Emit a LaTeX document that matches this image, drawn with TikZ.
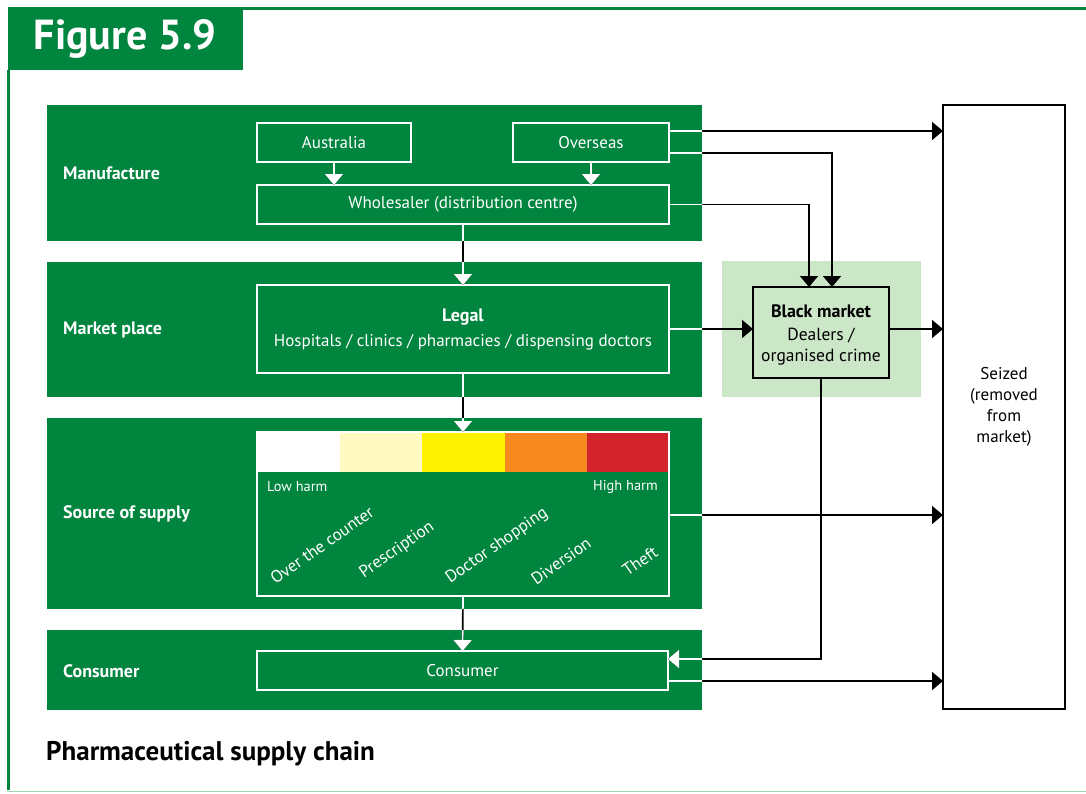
\documentclass[tikz,border=0pt]{standalone}
\usepackage{fontspec}
\setmainfont{PT Sans}
\usetikzlibrary{arrows.meta,calc}
\definecolor{fgreen}{HTML}{00853F}
\definecolor{bmgreen}{HTML}{CCE6C8}
\definecolor{framelight}{HTML}{9FD6B4}
\definecolor{harm1}{HTML}{FFFFFF}
\definecolor{harm2}{HTML}{FFF9C2}
\definecolor{harm3}{HTML}{FFF200}
\definecolor{harm4}{HTML}{F6891F}
\definecolor{harm5}{HTML}{D2232A}
\tikzset{
  band/.style={fill=fgreen, draw=none, inner sep=0pt, outer sep=0pt},
  bandlabel/.style={text=white, font=\fontsize{18}{21}\selectfont\bfseries, anchor=west, inner sep=0pt},
  wbox/.style={draw=white, line width=1.4pt, text=white, inner sep=0pt, outer sep=0pt,
    font=\fontsize{17}{20}\selectfont, align=center},
  arr/.style={draw=#1, line width=1.7pt, -{Triangle[length=11pt,width=18pt,fill=#1]}},
  rotlabel/.style={text=white, font=\fontsize{17}{20}\selectfont, rotate=35, inner sep=0pt},
  harmlabel/.style={text=white, font=\fontsize{14.4}{16}\selectfont, inner sep=0pt},
}
\newcommand\myconnectors[1]{%
  \draw[arr=#1] (aus.south) -- (whs.north -| aus.south);
  \draw[arr=#1] (ovs.south) -- (whs.north -| ovs.south);
  \draw[arr=#1] (whs.south) -- (legal.north);
  \draw[arr=#1] (legal.south) -- (src.north);
  \draw[arr=#1] (src.south) -- (cons.north);
  \draw[arr=#1] (ovs.east |- ya) -- (seized.west |- ya);
  \draw[arr=#1] (ovs.east |- yb) -- (xb |- yb) -- (xb |- bm.north);
  \draw[arr=#1] (whs.east) -- (xc |- whs.east) -- (xc |- bm.north);
  \draw[arr=#1] (legal.east |- yd) -- (bm.west |- yd);
  \draw[arr=#1] (bm.east |- yd) -- (seized.west |- yd);
  \draw[arr=#1] (src.east |- ye) -- (seized.west |- ye);
  \draw[arr=#1] (bm.south) -- (bm.south |- yf) -- (cons.east |- yf);
  \draw[arr=#1] (cons.east |- yg) -- (seized.west |- yg);
}
\begin{document}
\begin{tikzpicture}[x=1pt,y=-1pt]
\useasboundingbox (0,0) rectangle (1086,793);
% frame
\draw[fgreen, line width=3pt] (242,8.5) -- (1086,8.5);
\draw[fgreen, line width=3pt] (8.5,70) -- (8.5,790);
\draw[framelight, line width=1.6pt] (7,791.5) -- (1086,791.5);
\node[fill=fgreen, minimum width=235pt, minimum height=63pt, inner sep=0pt, outer sep=0pt,
  text=white, font=\fontsize{42}{46}\selectfont\bfseries] (title) at (125,38.5) {Figure 5.9};
% bands
\node[band, minimum width=655pt, minimum height=136pt] (b1) at (374.5,173) {};
\node[band, minimum width=655pt, minimum height=135pt] (b2) at (374.5,329.5) {};
\node[band, minimum width=655pt, minimum height=191pt] (b3) at (374.5,513.5) {};
\node[band, minimum width=655pt, minimum height=80pt] (b4) at (374.5,670) {};
\node[bandlabel] (l1) at (63,173) {Manufacture};
\node[bandlabel] (l2) at (63,330) {Market place};
\node[bandlabel] (l3) at (63,514) {Source of supply};
\node[bandlabel] (l4) at (63,671) {Consumer};
% black market background
\node[fill=bmgreen, minimum width=199pt, minimum height=136pt, inner sep=0pt] (bmbg) at (821.5,329) {};
% colour bar
\fill[harm1] (257,432) rectangle (340,472);
\fill[harm2] (340,432) rectangle (422,472);
\fill[harm3] (422,432) rectangle (505,472);
\fill[harm4] (505,432) rectangle (587,472);
\fill[harm5] (587,432) rectangle (669,472);
% boxes
\node[wbox, minimum width=154pt, minimum height=39pt] (aus) at (334,142.5) {Australia};
\node[wbox, minimum width=156pt, minimum height=39pt] (ovs) at (591,142.5) {Overseas};
\node[wbox, minimum width=412pt, minimum height=39pt] (whs) at (463,204.5) {Wholesaler (distribution centre)};
\node[wbox, minimum width=412pt, minimum height=88pt] (legal) at (463,329) {};
\node[text=white, font=\fontsize{18}{20}\selectfont\bfseries, inner sep=0pt] (legalt) at (463,317) {Legal};
\node[text=white, font=\fontsize{17}{20}\selectfont, inner sep=0pt] (legals) at (463,342) {Hospitals / clinics / pharmacies / dispensing doctors};
\node[wbox, minimum width=412pt, minimum height=164pt] (src) at (463,514) {};
\node[wbox, minimum width=411pt, minimum height=39pt] (cons) at (462.5,670.5) {Consumer};
\node[harmlabel, anchor=west] (lowh) at (267,487) {Low harm};
\node[harmlabel, anchor=east] (highh) at (658,487) {High harm};
\node[rotlabel] (r1) at (322,545) {Over the counter};
\node[rotlabel] (r2) at (397,550) {Prescription};
\node[rotlabel] (r3) at (497,546) {Doctor shopping};
\node[rotlabel] (r4) at (561,561) {Diversion};
\node[rotlabel] (r5) at (640,561) {Theft};
% black market box
\node[draw=black, fill=bmgreen, line width=1.4pt, minimum width=136pt, minimum height=91pt,
  inner sep=0pt, outer sep=0pt] (bm) at (821,332.5) {};
\node[font=\fontsize{18}{20}\selectfont\bfseries, inner sep=0pt] (bmt) at (821,311) {Black market};
\node[font=\fontsize{17.5}{21}\selectfont, inner sep=0pt, align=center] (bms) at (821,347)
  {Dealers /\\ organised crime};
% seized
\node[draw=black, line width=1.4pt, minimum width=122pt, minimum height=604pt, inner sep=0pt,
  outer sep=0pt, align=center, font=\fontsize{17}{21}\selectfont] (seized) at (1004,407)
  {Seized\\(removed\\from\\market)};
% helper coordinates
\coordinate (ya) at (0,131);
\coordinate (yb) at (0,153);
\coordinate (xb) at (832,0);
\coordinate (xc) at (809,0);
\coordinate (yd) at (0,329);
\coordinate (ye) at (0,515);
\coordinate (yf) at (0,659);
\coordinate (yg) at (0,681);
% connectors: black, then white where they cross the green bands
\myconnectors{black}
\begin{scope}
  \clip (47,105) rectangle (702,241) (47,262) rectangle (702,397)
        (47,418) rectangle (702,609) (47,630) rectangle (702,710);
  \myconnectors{white}
\end{scope}
% caption
\node[anchor=west, inner sep=0pt, font=\fontsize{27}{30}\selectfont\bfseries] (cap) at (46,754) {Pharmaceutical supply chain};
\end{tikzpicture}
\end{document}
